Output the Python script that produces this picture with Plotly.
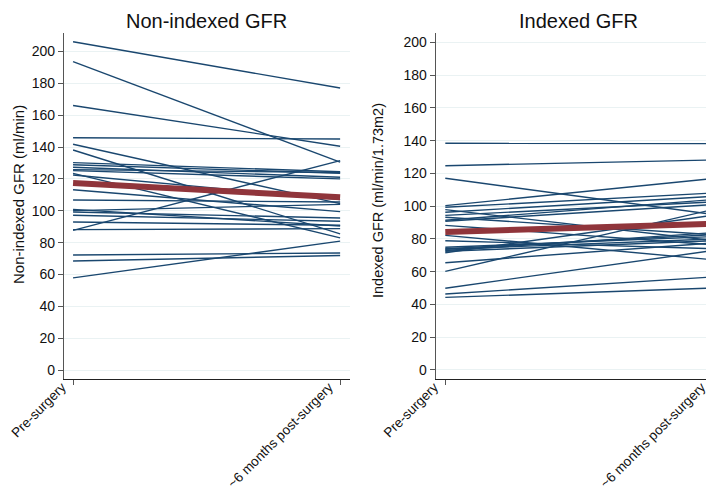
import plotly.graph_objects as go
from plotly.subplots import make_subplots

timepoints = ["Pre-surgery", "~6 months post-surgery"]

# Non-indexed GFR (ml/min), one entry per patient
nonidx_pre = [206, 193.5, 166, 145.8, 141.7, 138.1, 130.2, 128.9, 127.3, 125.8,
              125.2, 123.5, 122.4, 113.2, 106.8, 100.9, 100.1, 99.2, 97.2, 93,
              88.2, 87.7, 72.3, 68.5, 57.9]
nonidx_post = [177, 130.5, 140.5, 145, 104.5, 85.5, 124.5, 123.5, 121, 124,
               120, 83, 107, 99.5, 105.5, 90.5, 104, 95.5, 93.4, 90.9,
               88.8, 131.5, 73.5, 72, 81]
nonidx_mean = [117.4, 108.5]

# Indexed GFR (ml/min/1.73m2)
idx_pre = [138.4, 124.7, 117, 100.3, 99.3, 97.9, 96.3, 94.4, 93.2, 91.4,
           90.8, 88.3, 82.2, 78.9, 74.9, 73.7, 72.9, 72.5, 71.6, 65.5,
           60.2, 49.9, 46.4, 44.3, 74]
idx_post = [138.2, 128.2, 95, 116.8, 108, 79, 106, 102.6, 82.6, 104,
            101, 76.5, 67.3, 74, 81.4, 80, 83.8, 78.9, 94.4, 77.5,
            97.9, 72.9, 56.8, 50, 82.6]
idx_mean = [84.2, 89.3]

NAVY = "#1a476f"
MAROON = "#90353b"
GRID = "#eaf2f3"
FONT = "Liberation Sans"

fig = make_subplots(rows=1, cols=2)

panels = [(nonidx_pre, nonidx_post, nonidx_mean), (idx_pre, idx_post, idx_mean)]
for col, (pre, post, mean) in enumerate(panels, start=1):
    for a, b in zip(pre, post):
        fig.add_trace(go.Scatter(
            x=[0, 1], y=[a, b], mode="lines",
            line=dict(color=NAVY, width=1.4),
            showlegend=False, hoverinfo="skip",
        ), row=1, col=col)
    fig.add_trace(go.Scatter(
        x=[0, 1], y=mean, mode="lines",
        line=dict(color=MAROON, width=6),
        showlegend=False,
    ), row=1, col=col)

xcommon = dict(
    tickvals=[0, 1], ticktext=timepoints, tickangle=-45,
    showgrid=False, zeroline=False, showline=True, linecolor="#222", linewidth=1.2,
    ticks="outside", ticklen=5, tickcolor="#555",
    tickfont=dict(family=FONT, size=13.5, color="#111"),
    ticklabelstandoff=-11, ticklabelshift=-11,
    automargin=False,
)
ycommon = dict(
    tickvals=list(range(0, 201, 20)),
    showgrid=True, gridcolor=GRID, gridwidth=1, zeroline=False,
    showline=True, linecolor="#555", linewidth=1.2,
    ticks="outside", ticklen=5, tickcolor="#555",
    tickfont=dict(family=FONT, size=14, color="#111"),
    automargin=False,
)

fig.update_xaxes(**xcommon, range=[-0.034, 1.037], domain=[0.0784, 0.479], row=1, col=1)
fig.update_xaxes(**xcommon, range=[-0.036, 1.027], domain=[0.599, 0.997], row=1, col=2)
fig.update_yaxes(**ycommon, range=[-5.5, 211.5], domain=[0.2505, 0.9495], row=1, col=1)
fig.update_yaxes(**ycommon, range=[-5.5, 205.7], domain=[0.2505, 0.9495], row=1, col=2)

for text, xc in [("Non-indexed GFR", 198 / 714), ("Indexed GFR", 570 / 714)]:
    fig.add_annotation(text=text, x=xc, y=1, xref="paper", yref="paper",
                       showarrow=False, xanchor="center", yanchor="top",
                       font=dict(family=FONT, size=20, color="#111"))

# y-axis titles as rotated annotations for exact placement
for text, xc, yc, size in [("Non-indexed GFR (ml/min)", 10 / 714, 1 - 187 / 495, 15),
                           ("Indexed GFR (ml/min/1.73m2)", 370 / 714, 1 - 193 / 495, 14.5)]:
    fig.add_annotation(text=text, x=xc, y=yc, xref="paper", yref="paper",
                       showarrow=False, textangle=-90,
                       xanchor="center", yanchor="middle",
                       font=dict(family=FONT, size=size, color="#111"))

fig.update_layout(
    width=714, height=495,
    margin=dict(l=0, r=0, t=0, b=0),
    paper_bgcolor="white", plot_bgcolor="white",
    showlegend=False,
)

fig.write_html("out.html")
